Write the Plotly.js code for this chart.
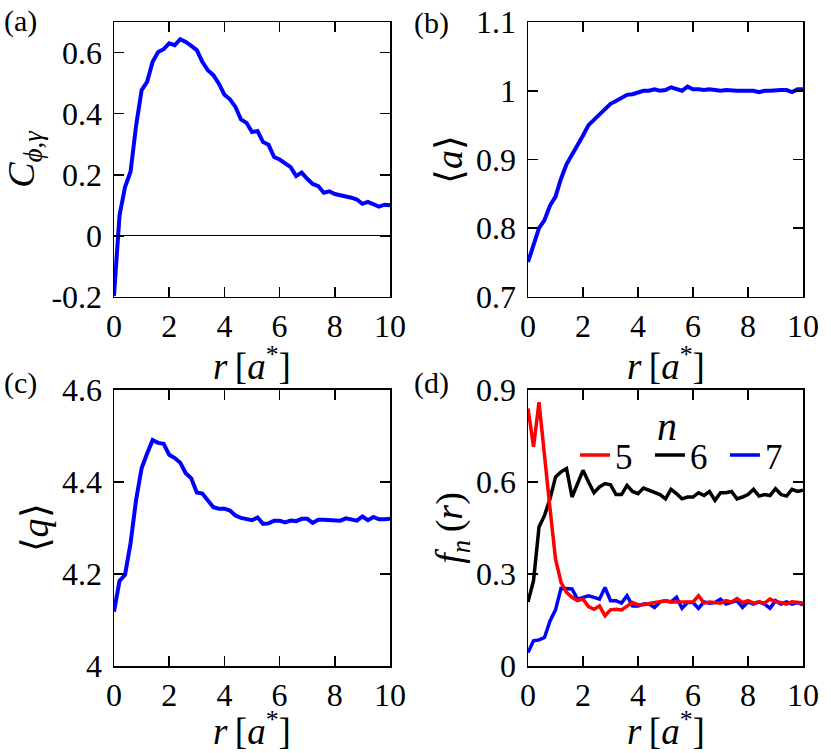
<!DOCTYPE html>
<html>
<head>
<meta charset="utf-8">
<script src="https://cdn.plot.ly/plotly-3.0.1.min.js"></script>
<style>
  html, body { margin: 0; padding: 0; background: white; }
  #chart { width: 831px; height: 753px; }
</style>
</head>
<body>
<div id="chart"></div>
<script>
// radial distance r [a*], shared by all four panels
const r = [0, 0.2, 0.4, 0.6, 0.8, 1.0, 1.2, 1.4, 1.6, 1.8, 2.0, 2.2, 2.4, 2.6, 2.8, 3.0, 3.2, 3.4, 3.6, 3.8,
  4.0, 4.2, 4.4, 4.6, 4.8, 5.0, 5.2, 5.4, 5.6, 5.8, 6.0, 6.2, 6.4, 6.6, 6.8, 7.0, 7.2, 7.4, 7.6, 7.8,
  8.0, 8.2, 8.4, 8.6, 8.8, 9.0, 9.2, 9.4, 9.6, 9.8, 10.0];

// (a) correlation C_phi,gamma
const corr = [-0.196, 0.067, 0.16, 0.21, 0.36, 0.477, 0.504, 0.57, 0.602, 0.611, 0.63, 0.624, 0.644, 0.635, 0.622,
  0.608, 0.57, 0.542, 0.526, 0.498, 0.462, 0.447, 0.422, 0.381, 0.37, 0.34, 0.343, 0.307, 0.298, 0.258,
  0.25, 0.236, 0.225, 0.196, 0.207, 0.187, 0.17, 0.163, 0.141, 0.146, 0.137, 0.133, 0.13, 0.125, 0.119,
  0.105, 0.111, 0.102, 0.096, 0.102, 0.1];

// (b) mean area <a>
const meanA = [0.751, 0.775, 0.80, 0.812, 0.833, 0.846, 0.872, 0.893, 0.907, 0.919, 0.935, 0.95, 0.958, 0.965, 0.974,
  0.981, 0.985, 0.990, 0.994, 0.995, 0.997, 1.0, 1.0, 1.002, 1.0, 1.001, 1.005, 1.003, 1.0, 1.006,
  1.002, 1.002, 1.001, 1.002, 1.001, 1.0, 1.001, 1.0, 1.0, 1.0, 1.0, 1.0, 0.998, 1.0, 1.0,
  1.001, 1.001, 1.001, 0.998, 1.002, 1.002];

// (c) mean shape index <q>
const meanQ = [4.118, 4.185, 4.198, 4.267, 4.361, 4.43, 4.462, 4.491, 4.485, 4.483, 4.459, 4.452, 4.442, 4.419, 4.408,
  4.377, 4.375, 4.359, 4.345, 4.342, 4.342, 4.338, 4.327, 4.322, 4.32, 4.317, 4.323, 4.309, 4.31, 4.316,
  4.316, 4.312, 4.316, 4.315, 4.32, 4.32, 4.311, 4.318, 4.318, 4.318, 4.317, 4.316, 4.321, 4.318, 4.316,
  4.325, 4.317, 4.324, 4.319, 4.319, 4.32];

// (d) fraction of n-sided cells
const f5 = [0.84, 0.715, 0.86, 0.676, 0.513, 0.349, 0.273, 0.24, 0.224, 0.213, 0.218, 0.194, 0.185, 0.196, 0.164,
  0.183, 0.185, 0.183, 0.196, 0.207, 0.2, 0.2, 0.204, 0.207, 0.209, 0.213, 0.209, 0.209, 0.207, 0.209,
  0.209, 0.229, 0.205, 0.209, 0.207, 0.205, 0.213, 0.209, 0.22, 0.207, 0.213, 0.205, 0.209, 0.205, 0.218,
  0.209, 0.207, 0.202, 0.209, 0.207, 0.205];
const f6 = [0.209, 0.278, 0.453, 0.491, 0.545, 0.616, 0.633, 0.644, 0.551, 0.595, 0.638, 0.6, 0.565, 0.584, 0.595,
  0.591, 0.559, 0.559, 0.589, 0.569, 0.562, 0.58, 0.573, 0.565, 0.559, 0.545, 0.576, 0.562, 0.545, 0.551,
  0.551, 0.565, 0.556, 0.569, 0.54, 0.565, 0.565, 0.569, 0.545, 0.551, 0.559, 0.576, 0.554, 0.559, 0.556,
  0.578, 0.559, 0.554, 0.576, 0.569, 0.573];
const f7 = [0.044, 0.082, 0.085, 0.093, 0.147, 0.183, 0.253, 0.251, 0.251, 0.218, 0.224, 0.229, 0.224, 0.218, 0.256,
  0.213, 0.213, 0.205, 0.229, 0.196, 0.196, 0.202, 0.202, 0.191, 0.209, 0.213, 0.209, 0.224, 0.188, 0.207,
  0.207, 0.188, 0.209, 0.205, 0.207, 0.218, 0.202, 0.209, 0.213, 0.191, 0.209, 0.202, 0.209, 0.202, 0.188,
  0.213, 0.202, 0.209, 0.202, 0.207, 0.199];

const FONT = '"Liberation Serif", "Times New Roman", serif';
const xTitle = '<i>r</i>\u2009[<i>a</i><sup>*</sup>]';

function baseAxis(extra) {
  return Object.assign({
    showline: true,
    linecolor: 'black',
    linewidth: 1.5,
    mirror: 'ticks',
    ticks: 'inside',
    ticklen: 10,
    tickwidth: 1.5,
    tickcolor: 'black',
    showgrid: false,
    zeroline: false,
    tickfont: { family: FONT, size: 32, color: 'black' },
    ticklabelstandoff: 4
  }, extra);
}

function xAxis(domain, anchor) {
  return baseAxis({
    domain: domain,
    anchor: anchor,
    range: [0, 10],
    tickvals: [0, 2, 4, 6, 8, 10],
    ticklabelstandoff: 0
  });
}

function yTitle(text, standoff) {
  return { text: text, font: { family: FONT, size: 38, color: 'black' }, standoff: standoff };
}

const blueLine = { color: '#0000ff', width: 4 };

const traces = [
  { x: r, y: corr, xaxis: 'x', yaxis: 'y', type: 'scatter', mode: 'lines', line: blueLine, showlegend: false },
  { x: r, y: meanA, xaxis: 'x2', yaxis: 'y2', type: 'scatter', mode: 'lines', line: blueLine, showlegend: false },
  { x: r, y: meanQ, xaxis: 'x3', yaxis: 'y3', type: 'scatter', mode: 'lines', line: blueLine, showlegend: false },
  { x: r, y: f6, xaxis: 'x4', yaxis: 'y4', type: 'scatter', mode: 'lines', name: '6', legendrank: 2,
    line: { color: 'black', width: 3.5 } },
  { x: r, y: f7, xaxis: 'x4', yaxis: 'y4', type: 'scatter', mode: 'lines', name: '7', legendrank: 3,
    line: { color: '#0000ff', width: 3.5 } },
  { x: r, y: f5, xaxis: 'x4', yaxis: 'y4', type: 'scatter', mode: 'lines', name: '5', legendrank: 1,
    line: { color: '#ff0000', width: 3.5 } }
];

const topRow = [0.573, 1];
const botRow = [0, 0.4286];
const leftCol = [0, 0.4006];
const rightCol = [0.6009, 1];

function label(text, x, y, size) {
  return { text: text, xref: 'paper', yref: 'paper', x: x, y: y, xanchor: 'left', yanchor: 'middle',
    showarrow: false, font: { family: FONT, size: size, color: 'black' } };
}
function xLabel(x, y) {
  return { text: xTitle, xref: 'paper', yref: 'paper', x: x, y: y, xanchor: 'center', yanchor: 'middle',
    showarrow: false, font: { family: FONT, size: 37, color: 'black' } };
}

const layout = {
  width: 831,
  height: 753,
  margin: { l: 114, r: 28, t: 22, b: 87 },
  paper_bgcolor: 'white',
  plot_bgcolor: 'white',
  font: { family: FONT, color: 'black' },
  xaxis: xAxis(leftCol, 'y'),
  yaxis: baseAxis({
    domain: topRow, anchor: 'x', range: [-0.2, 0.7],
    tickvals: [-0.2, 0, 0.2, 0.4, 0.6], ticktext: ['-0.2', '0', '0.2', '0.4', '0.6'],
    zeroline: true, zerolinecolor: 'black', zerolinewidth: 1.2,
    title: yTitle('<i>C</i><sub><i>\u03d5</i>,<i>\u03b3</i></sub>', 10)
  }),
  xaxis2: xAxis(rightCol, 'y2'),
  yaxis2: baseAxis({
    domain: topRow, anchor: 'x2', range: [0.7, 1.1],
    tickvals: [0.7, 0.8, 0.9, 1.0, 1.1],
    title: yTitle('\u27e8<i>a</i>\u27e9', 2)
  }),
  xaxis3: xAxis(leftCol, 'y3'),
  yaxis3: baseAxis({
    domain: botRow, anchor: 'x3', range: [4, 4.6],
    tickvals: [4, 4.2, 4.4, 4.6],
    title: yTitle('\u27e8<i>q</i>\u27e9', 2)
  }),
  xaxis4: xAxis(rightCol, 'y4'),
  yaxis4: baseAxis({
    domain: botRow, anchor: 'x4', range: [0, 0.9],
    tickvals: [0, 0.3, 0.6, 0.9],
    title: yTitle('<i>f<sub>n</sub></i>\u2009(<i>r</i>)', 2)
  }),
  showlegend: true,
  legend: {
    orientation: 'h',
    x: 0.669, xanchor: 'left',
    y: 0.373, yanchor: 'top',
    bgcolor: 'rgba(0,0,0,0)',
    font: { family: FONT, size: 35, color: 'black' },
    itemwidth: 30,
    entrywidth: 30,
    entrywidthmode: 'pixels',
    tracegroupgap: 0
  },
  annotations: [
    label('(a)', -0.1626, 1.0016, 30),
    label('(b)', 0.4325, 0.998, 30),
    label('(c)', -0.1626, 0.44, 30),
    label('(d)', 0.4325, 0.44, 30),
    xLabel(0.2003, 0.47),
    xLabel(0.8005, 0.47),
    xLabel(0.2003, -0.097),
    xLabel(0.8005, -0.097),
    // legend heading for panel (d)
    { text: '<i>n</i>', xref: 'paper', yref: 'paper', x: 0.8026, y: 0.372, xanchor: 'center', yanchor: 'middle',
      showarrow: false, font: { family: FONT, size: 40, color: 'black' } }
  ]
};

Plotly.newPlot('chart', traces, layout, { displayModeBar: false, staticPlot: true });
</script>
</body>
</html>
